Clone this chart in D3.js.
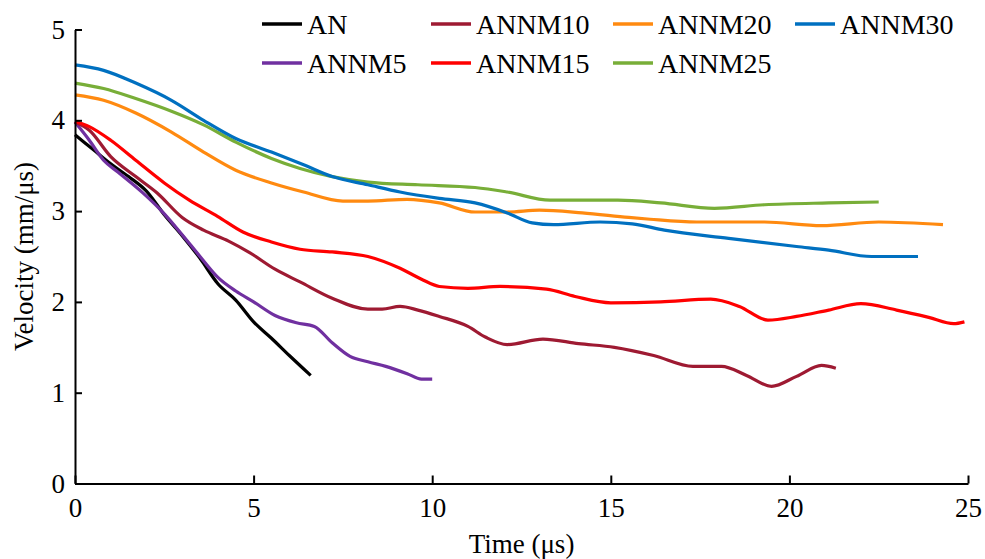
<!DOCTYPE html>
<html>
<head>
<meta charset="utf-8">
<script src="https://cdn.jsdelivr.net/npm/d3@7"></script>
<style>
  body { margin: 0; background: #fff; }
  text { font-family: "Liberation Serif", "Times New Roman", serif; fill: #000; }
</style>
</head>
<body>
<div id="chart"></div>
<script>
// series: [time (us), velocity (mm/us)]
var seriesNames = ["AN", "ANNM5", "ANNM10", "ANNM15", "ANNM20", "ANNM25", "ANNM30"];
var seriesColors = ["#000000", "#7030a0", "#9e1a32", "#ff0000", "#ff8a10", "#78ae38", "#0070c0"];

var AN = [[0,3.84],[0.5,3.68],[1,3.52],[1.5,3.38],[2,3.22],[2.5,2.96],[3,2.73],[3.5,2.48],
  [4,2.20],[4.5,2.02],[5,1.78],[5.5,1.60],[6,1.41],[6.6,1.19]];
var ANNM5 = [[0,3.98],[0.4,3.78],[0.8,3.56],[1.2,3.43],[1.9,3.2],[2.5,2.97],[3,2.74],[3.5,2.5],
  [4,2.27],[4.5,2.12],[5,2.0],[5.6,1.85],[6.2,1.77],[6.7,1.73],[7.2,1.55],[7.7,1.4],[8.2,1.34],
  [8.7,1.29],[9.3,1.21],[9.7,1.15],[10,1.15]];
var ANNM10 = [[0,3.98],[0.4,3.89],[1,3.6],[1.7,3.38],[2.3,3.2],[3,2.93],[3.6,2.79],[4.3,2.67],
  [4.9,2.54],[5.6,2.36],[6.3,2.22],[7.2,2.04],[8.2,1.92],[8.6,1.92],[9.1,1.95],[9.6,1.91],
  [10.2,1.84],[11,1.73],[11.5,1.61],[12.1,1.53],[13.1,1.59],[14.1,1.54],[15.1,1.5],[16.2,1.41],
  [17.3,1.29],[18.1,1.29],[18.8,1.19],[19.5,1.07],[20.2,1.18],[20.9,1.30],[21.3,1.27]];
var ANNM15 = [[0,3.99],[0.4,3.93],[1,3.78],[1.7,3.56],[2.5,3.31],[3.2,3.12],[4,2.94],[4.7,2.77],
  [5.5,2.66],[6.3,2.58],[7.2,2.55],[8.2,2.5],[9.1,2.37],[9.7,2.25],[10.2,2.17],[11,2.15],
  [11.9,2.17],[13.2,2.14],[14,2.06],[15,1.99],[16.4,2.0],[17.8,2.03],[18.6,1.95],[19.4,1.80],
  [20.2,1.84],[21.1,1.91],[22,1.98],[23,1.91],[23.9,1.83],[24.6,1.76],[24.9,1.78]];
var ANNM20 = [[0,4.28],[0.8,4.22],[1.7,4.08],[2.7,3.87],[3.6,3.65],[4.5,3.45],[5.5,3.31],
  [6.4,3.21],[7.5,3.11],[8.2,3.11],[9.3,3.13],[10.2,3.09],[11.2,2.99],[12.1,2.99],[13,3.01],
  [14.2,2.98],[15.5,2.93],[16.1,2.91],[17.4,2.88],[19.3,2.88],[20.9,2.84],[22.5,2.88],[24.3,2.85]];
var ANNM25 = [[0,4.41],[0.8,4.35],[1.7,4.24],[2.7,4.10],[3.6,3.95],[4.5,3.76],[5.5,3.58],
  [6.3,3.47],[7.2,3.38],[8.2,3.32],[9.6,3.29],[11.2,3.26],[12.1,3.21],[13.3,3.12],[15.2,3.12],
  [16.4,3.09],[17.9,3.03],[19.3,3.07],[21.1,3.09],[22.5,3.10]];
var ANNM30 = [[0,4.61],[0.8,4.55],[1.7,4.41],[2.7,4.22],[3.6,4.0],[4.5,3.8],[5.5,3.65],
  [6.4,3.51],[7.2,3.38],[8.2,3.29],[9.1,3.21],[10.2,3.14],[11.2,3.09],[12.1,2.98],[12.8,2.87],
  [13.4,2.85],[14.7,2.88],[15.6,2.86],[16.5,2.79],[18.3,2.70],[20.2,2.61],[21.1,2.57],
  [22.3,2.50],[23.6,2.50]];

var xTicks = [0, 5, 10, 15, 20, 25];
var yTicks = [0, 1, 2, 3, 4, 5];

var allSeries = [AN, ANNM5, ANNM10, ANNM15, ANNM20, ANNM25, ANNM30];

var chartWidth = 985, chartHeight = 559;
var margin = {top: 29.5, right: 17, bottom: 75.5, left: 75},
    width  = chartWidth - margin.left - margin.right,
    height = chartHeight - margin.top - margin.bottom;

var svg = d3.select("#chart").append("svg")
    .attr("width", chartWidth)
    .attr("height", chartHeight);

var g = svg.append("g")
    .attr("transform", "translate(" + margin.left + "," + margin.top + ")");

var x = d3.scaleLinear().domain([0, 25]).range([0, width]);
var y = d3.scaleLinear().domain([0, 5]).range([height, 0]);

var line = d3.line()
    .x(function(d) { return x(d[0]); })
    .y(function(d) { return y(d[1]); })
    .curve(d3.curveMonotoneX);

// curves, drawn in the legend order
allSeries.forEach(function(s, i) {
  g.append("path")
    .datum(s)
    .attr("fill", "none")
    .attr("stroke", seriesColors[i])
    .attr("stroke-width", 3.2)
    .attr("stroke-linejoin", "round")
    .attr("d", line);
});

// axes with inward ticks, only left and bottom spines
var fmt = d3.format("d");
var xAxis = g.append("g")
    .attr("transform", "translate(0," + height + ")")
    .call(d3.axisBottom(x).tickValues(xTicks).tickFormat(fmt)
      .tickSizeInner(-8).tickSizeOuter(0).tickPadding(14));

var yAxis = g.append("g")
    .call(d3.axisLeft(y).tickValues(yTicks).tickFormat(fmt)
      .tickSizeInner(-7).tickSizeOuter(0).tickPadding(10));

[xAxis, yAxis].forEach(function(a) {
  a.select(".domain").attr("stroke", "#000").attr("stroke-width", 2);
  a.selectAll(".tick line").attr("stroke", "#000").attr("stroke-width", 2);
  a.selectAll(".tick text")
    .style("font-size", "27px")
    .attr("fill", "#000");
});
xAxis.selectAll(".tick text").attr("dy", "0.71em");

// axis titles
svg.append("text")
    .attr("x", margin.left + width / 2)
    .attr("y", 553)
    .attr("text-anchor", "middle")
    .style("font-size", "27px")
    .text("Time (μs)");

svg.append("text")
    .attr("transform", "translate(33," + (margin.top + height / 2) + ") rotate(-90)")
    .attr("text-anchor", "middle")
    .style("font-size", "27px")
    .text("Velocity (mm/μs)");

// legend: two rows, four columns
var legendCols = [262, 431, 613, 795];
var legendRows = [24, 63];
seriesNames.forEach(function(name, i) {
  // picture order: row 1 = AN, ANNM10, ANNM20, ANNM30; row 2 = ANNM5, ANNM15, ANNM25
  var col = Math.floor(i / 2), row = i % 2;
  var item = svg.append("g")
      .attr("transform", "translate(" + legendCols[col] + "," + legendRows[row] + ")");
  item.append("line")
      .attr("x1", 0).attr("x2", 40)
      .attr("y1", 0).attr("y2", 0)
      .attr("stroke", seriesColors[i])
      .attr("stroke-width", 3.5);
  item.append("text")
      .attr("x", 45)
      .attr("dy", "0.35em")
      .style("font-size", "28px")
      .text(name);
});
</script>
</body>
</html>
